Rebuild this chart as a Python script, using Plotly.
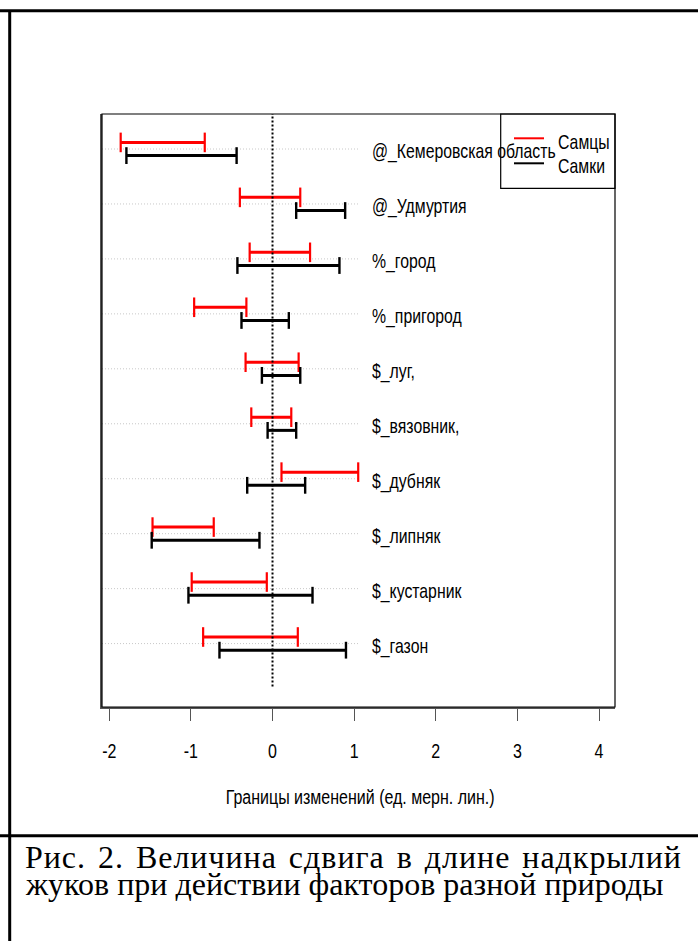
import plotly.graph_objects as go

# Factor groups, top to bottom
categories = [
    "@_Кемеровская область", "@_Удмуртия", "%_город", "%_пригород", "$_луг,",
    "$_вязовник,", "$_дубняк", "$_липняк", "$_кустарник", "$_газон",
]
# Interval bounds (ед. мерн. лин.)
male_lo = [-1.86, -0.40, -0.28, -0.96, -0.33, -0.26, 0.11, -1.47, -0.99, -0.85]
male_hi = [-0.83, 0.34, 0.46, -0.32, 0.32, 0.23, 1.05, -0.72, -0.07, 0.31]
female_lo = [-1.79, 0.29, -0.43, -0.38, -0.13, -0.06, -0.31, -1.48, -1.03, -0.65]
female_hi = [-0.44, 0.89, 0.82, 0.20, 0.34, 0.29, 0.40, -0.16, 0.49, 0.90]
x_ticks = [-2, -1, 0, 1, 2, 3, 4]
series_names = ["Самцы", "Самки"]
x_title = "Границы изменений (ед. мерн. лин.)"
caption_lines = [
    "Рис. 2. Величина сдвига в длине надкрылий",
    "жуков при действии факторов разной природы",
]

W, H = 698, 941
ML, MR, MT, MB = 102, 83, 114, 234
PW, PH = W - ML - MR, H - MT - MB
X_RANGE = [-2.089, 4.196]
Y_RANGE = [-0.154, 10.637]
SANS = "Liberation Sans, Arial, sans-serif"
SERIF = "Liberation Serif, Times New Roman, serif"


def px_x(px):
    return (px - ML) / PW


def px_y(py):
    return (H - MB - py) / PH


n = len(categories)
rows = [n - i for i in range(n)]  # first category at the top
OFF = 0.12


def interval_xy(lo, hi, off):
    xs, ys = [], []
    for a, b, r in zip(lo, hi, rows):
        xs += [a, b, None]
        ys += [r + off, r + off, None]
    return xs, ys


fig = go.Figure()

mx, my = interval_xy(male_lo, male_hi, OFF)
fx, fy = interval_xy(female_lo, female_hi, -OFF)
fig.add_trace(go.Scatter(
    x=mx, y=my, mode="lines+markers", name=series_names[0],
    line=dict(color="#ff0000", width=3),
    marker=dict(symbol="line-ns", size=14, line=dict(color="#ff0000", width=2.2)),
    showlegend=False, hoverinfo="skip",
))
fig.add_trace(go.Scatter(
    x=fx, y=fy, mode="lines+markers", name=series_names[1],
    line=dict(color="#000000", width=3),
    marker=dict(symbol="line-ns", size=12, line=dict(color="#000000", width=2.4)),
    showlegend=False, hoverinfo="skip",
))

shapes = []
# row guide lines
for r in rows:
    shapes.append(dict(type="line", xref="x", yref="y", x0=X_RANGE[0], x1=1.07,
                       y0=r, y1=r, layer="below",
                       line=dict(color="#c8c8c8", width=1, dash="1px,2px")))
# zero reference line
shapes.append(dict(type="line", xref="x", yref="y", x0=0, x1=0, y0=0.22, y1=Y_RANGE[1],
                   line=dict(color="#000000", width=2, dash="2px,2px")))
# plot frame
shapes.append(dict(type="rect", xref="paper", yref="paper", x0=0, x1=1, y0=0, y1=1,
                   line=dict(color="#000000", width=1.2)))
# legend frame and keys
shapes.append(dict(type="rect", xref="paper", yref="paper",
                   x0=px_x(500.7), x1=1, y0=px_y(188.3), y1=1,
                   line=dict(color="#000000", width=1.2)))
shapes.append(dict(type="line", xref="paper", yref="paper",
                   x0=px_x(514), x1=px_x(544), y0=px_y(138.3), y1=px_y(138.3),
                   line=dict(color="#ff0000", width=2)))
shapes.append(dict(type="line", xref="paper", yref="paper",
                   x0=px_x(514), x1=px_x(544), y0=px_y(163.3), y1=px_y(163.3),
                   line=dict(color="#000000", width=2)))
# page rules
for y0 in (10.7, 835.7):
    shapes.append(dict(type="line", xref="paper", yref="paper",
                       x0=px_x(0), x1=px_x(W), y0=px_y(y0), y1=px_y(y0),
                       line=dict(color="#000000", width=3)))
shapes.append(dict(type="line", xref="paper", yref="paper",
                   x0=px_x(9.7), x1=px_x(9.7), y0=px_y(10), y1=px_y(H),
                   line=dict(color="#000000", width=3)))

annotations = []
for cat, r in zip(categories, rows):
    annotations.append(dict(text=cat, name="narrow-left", xref="paper", yref="y",
                            x=px_x(370), y=r - 0.05,
                            xanchor="left", yanchor="middle", showarrow=False,
                            font=dict(family=SANS, size=20, color="#000000")))
for name, py in zip(series_names, (141.7, 166.0)):
    annotations.append(dict(text=name, name="narrow-left", xref="paper", yref="paper",
                            x=px_x(556), y=px_y(py),
                            xanchor="left", yanchor="middle", showarrow=False,
                            font=dict(family=SANS, size=20, color="#000000")))
annotations.append(dict(text=x_title, name="narrow-center", xref="paper", yref="paper",
                        x=px_x(360), y=px_y(797),
                        xanchor="center", yanchor="middle", showarrow=False,
                        font=dict(family=SANS, size=20, color="#000000")))
for i, (line, py) in enumerate(zip(caption_lines, (857, 884))):
    annotations.append(dict(text=line, name="caption-justify" if i == 0 else "caption",
                            xref="paper", yref="paper", x=px_x(23), y=px_y(py),
                            xanchor="left", yanchor="middle", showarrow=False,
                            font=dict(family=SERIF, size=32, color="#000000")))

fig.update_layout(
    width=W, height=H,
    margin=dict(l=ML, r=MR, t=MT, b=MB, pad=0),
    paper_bgcolor="#ffffff", plot_bgcolor="#ffffff",
    shapes=shapes, annotations=annotations,
    xaxis=dict(range=X_RANGE, tickvals=x_ticks, ticktext=[str(v) for v in x_ticks],
               showgrid=False, zeroline=False, showline=True, linecolor="#555555",
               linewidth=1.5, ticks="outside", ticklen=12, tickwidth=1.3,
               tickcolor="#555555", ticklabelstandoff=13,
               tickfont=dict(family=SANS, size=20, color="#000000")),
    yaxis=dict(range=Y_RANGE, showgrid=False, zeroline=False, showticklabels=False,
               showline=True, linecolor="#555555", linewidth=1.5, ticks=""),
)

# Condensed sans labels (narrow face) and a justified first caption line.
post_js = """
var gd = document.querySelector('.plotly-graph-div');
function squeeze(el, s, anchor) {
  var bb = el.getBBox();
  var cx = anchor === 'left' ? bb.x : bb.x + bb.width / 2;
  var cy = bb.y + bb.height / 2;
  var t = el.getAttribute('transform') || '';
  el.setAttribute('transform', t + ' translate(' + cx + ',' + cy + ') scale(' + s +
                  ',1) translate(' + (-cx) + ',' + (-cy) + ')');
}
var anns = gd.querySelectorAll('g.annotation');
anns.forEach(function (g) {
  var idx = +g.getAttribute('data-index');
  var spec = gd.layout.annotations[idx];
  var txt = g.querySelector('text');
  if (!spec || !txt) return;
  if (spec.name === 'narrow-left') squeeze(txt, 0.79, 'left');
  else if (spec.name === 'narrow-center') squeeze(txt, 0.80, 'center');
  else if (spec.name === 'caption-justify') {
    var bb0 = txt.getBBox();
    var nsp = (spec.text.match(/ /g) || []).length;
    var nch = spec.text.length - 1;
    var extra = 656 - bb0.width;
    if (extra > 0) {
      var ws = Math.min(3, extra / nsp);
      var ls = (extra - ws * nsp) / nch;
      txt.style.wordSpacing = ws + 'px';
      txt.style.letterSpacing = ls + 'px';
      var bb1 = txt.getBBox();
      var t = txt.getAttribute('transform') || '';
      txt.setAttribute('transform', t + ' translate(' + (bb0.x - bb1.x) + ',0)');
    }
  }
});
gd.querySelectorAll('.xtick text').forEach(function (el) { squeeze(el, 0.8, 'center'); });
"""

fig.write_html("out.html", post_script=post_js)
